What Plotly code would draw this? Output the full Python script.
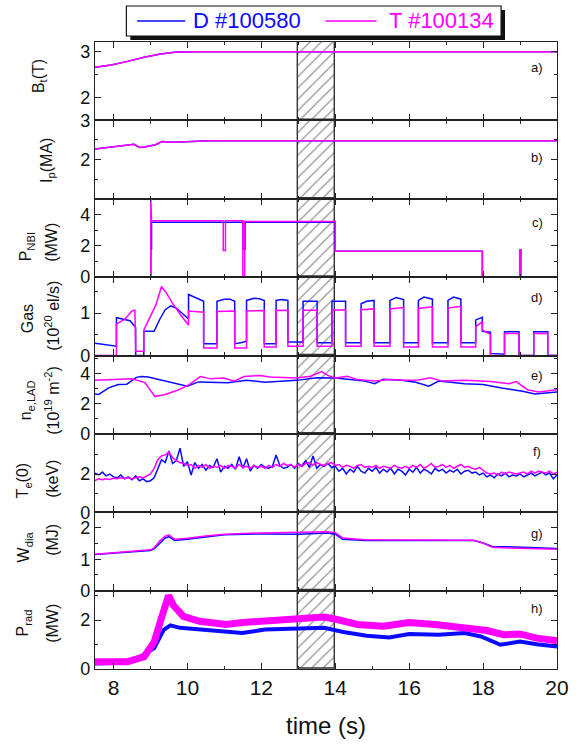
import plotly.graph_objects as go

# ---------------- data ----------------
BLUE = "#0a0aff"
MAG = "#ff00ff"

# a) toroidal field (both shots identical)
t_bt = [7.5, 7.94, 8.38, 8.83, 9.27, 9.71, 10.3, 20.0]
bt_d = [2.65, 2.70, 2.78, 2.87, 2.94, 2.985, 2.99, 2.99]
bt_t = [2.65, 2.70, 2.78, 2.87, 2.94, 2.985, 2.99, 2.99]

# b) plasma current
t_ip = [7.5, 8.47, 8.56, 8.7, 8.83, 9.14, 9.31, 9.62, 10.15, 10.6, 20.0]
ip_d = [2.27, 2.37, 2.39, 2.31, 2.32, 2.38, 2.46, 2.44, 2.47, 2.48, 2.48]
ip_t = [2.27, 2.37, 2.39, 2.31, 2.32, 2.38, 2.46, 2.44, 2.47, 2.48, 2.48]

# c) NBI power
t_nbi_d = [7.5, 9.01, 9.01, 9.03, 9.03, 11.5, 11.5, 11.56, 11.56, 14.0, 14.0, 17.98, 17.98, 20.0]
nbi_d = [0, 0, 1.8, 1.8, 3.5, 3.5, 1.8, 1.8, 3.5, 3.5, 1.65, 1.65, 0, 0]
t_nbi_t = [7.5, 9.01, 9.01, 9.03, 10.97, 10.97, 11.03, 11.03, 11.5, 11.5, 11.55, 11.55,
           14.0, 14.0, 17.98, 17.98, 18.99, 18.99, 19.03, 19.03, 20.0]
nbi_t = [0, 0, 5.0, 3.6, 3.6, 1.7, 1.7, 3.6, 3.6, 0, 0, 3.55,
         3.55, 1.65, 1.65, 0, 0, 1.75, 1.75, 0, 0]

# d) gas fuelling
t_gas_d = [7.5, 8.08, 8.08, 8.45, 8.6, 8.6, 8.82, 8.82, 9.1, 9.25, 9.4, 9.55, 9.7, 9.85, 10.03,
           10.03, 10.2, 10.44, 10.44, 10.8, 10.8, 11.0, 11.15, 11.28, 11.28, 11.45, 11.6,
           11.6, 11.8, 11.95, 12.08, 12.08, 12.4, 12.4, 12.55, 12.72, 12.72, 13.13,
           13.13, 13.51, 13.51, 13.91, 13.91, 14.28, 14.28, 14.7, 14.7, 14.85, 15.05,
           15.05, 15.48, 15.48, 15.65, 15.85, 15.85, 16.25, 16.25, 16.4, 16.63, 16.63,
           17.05, 17.05, 17.2, 17.4, 17.4, 17.8, 17.8, 17.98, 17.98, 18.2, 18.2, 18.58,
           18.58, 18.97, 18.97, 19.37, 19.37, 19.75, 19.75, 20.0]
gas_d = [0.29, 0.22, 0.89, 0.82, 0.66, 0.0, 0.0, 0.57, 0.57, 0.85, 1.08, 1.17, 1.12, 1.0, 0.86,
         1.44, 1.38, 1.28, 0.28, 0.28, 1.28, 1.33, 1.33, 1.28, 0.28, 0.3, 0.34,
         1.3, 1.35, 1.34, 1.3, 0.28, 0.28, 1.3, 1.32, 1.3, 0.32, 0.32,
         1.28, 1.28, 0.3, 0.3, 1.28, 1.28, 0.3, 0.3, 1.22, 1.28, 1.3,
         0.3, 0.3, 1.3, 1.37, 1.32, 0.3, 0.3, 1.3, 1.38, 1.33, 0.3,
         0.3, 1.3, 1.38, 1.33, 0.3, 0.3, 0.84, 0.9, 0.57, 0.55, 0.05, 0.03,
         0.56, 0.56, 0.0, 0.0, 0.56, 0.56, 0.0, 0.0]
t_gas_t = [7.5, 8.08, 8.08, 8.3, 8.5, 8.58, 8.6, 8.82, 8.82, 9.0, 9.15, 9.3, 9.45, 9.6, 9.82, 10.03,
           10.03, 10.44, 10.44, 10.8, 10.8, 11.28, 11.28, 11.6, 11.6, 12.08, 12.08, 12.4,
           12.4, 12.72, 12.72, 13.13, 13.13, 13.51, 13.51, 13.91, 13.91, 14.28, 14.28,
           14.7, 14.7, 15.05, 15.05, 15.48, 15.48, 15.85, 15.85, 16.25, 16.25, 16.63,
           16.63, 17.05, 17.05, 17.4, 17.4, 17.8, 17.8, 17.98, 17.98, 18.2, 18.2,
           18.58, 18.58, 18.97, 18.97, 19.37, 19.37, 19.75, 19.75, 20.0]
gas_t = [0.0, 0.0, 0.74, 0.85, 1.05, 1.07, 0.1, 0.1, 0.6, 0.95, 1.2, 1.63, 1.45, 1.23, 0.95, 0.72,
         1.05, 1.02, 0.18, 0.18, 1.04, 1.05, 0.18, 0.18, 1.05, 1.06, 0.2, 0.2,
         1.06, 1.07, 0.22, 0.22, 1.07, 1.07, 0.22, 0.22, 1.07, 1.08, 0.22,
         0.22, 1.08, 1.1, 0.22, 0.22, 1.1, 1.13, 0.2, 0.2, 1.11, 1.15,
         0.2, 0.2, 1.12, 1.16, 0.2, 0.2, 0.68, 0.8, 0.6, 0.5, 0.0,
         0.0, 0.52, 0.52, 0.0, 0.0, 0.52, 0.52, 0.0, 0.0]

# e) line-averaged density
t_ne_d = [7.5, 7.6, 7.87, 8.13, 8.36, 8.62, 8.76, 8.94, 10.0, 10.3, 11.1, 11.6, 12.1, 12.95,
          13.5, 14.0, 14.4, 14.8, 15.07, 15.3, 15.8, 16.18, 16.53, 16.8, 17.5, 18.0, 18.5,
          19.07, 19.4, 19.8, 20.0]
ne_d = [2.65, 2.62, 3.05, 3.27, 3.3, 3.75, 3.8, 3.78, 3.16, 3.45, 3.4, 3.55, 3.43, 3.55,
        3.73, 3.7, 3.6, 3.5, 3.33, 3.63, 3.55, 3.42, 3.17, 3.5, 3.33, 3.28, 3.05,
        2.83, 2.65, 2.75, 2.78]
t_ne_t = [7.5, 8.5, 8.85, 9.12, 9.38, 9.77, 10.05, 10.35, 10.63, 10.98, 11.27, 11.53, 11.97,
          12.23, 12.95, 13.33, 13.63, 13.8, 14.0, 14.33, 14.6, 15.07, 15.5, 15.9, 16.25,
          16.57, 16.9, 17.5, 18.2, 18.7, 18.9, 19.2, 19.5, 19.85, 20.0]
ne_t = [3.55, 3.65, 3.4, 2.49, 2.6, 2.93, 3.27, 3.8, 3.65, 3.7, 3.5, 3.8, 3.88,
        3.78, 3.7, 3.82, 4.13, 3.88, 3.7, 3.82, 3.6, 3.5, 3.6, 3.55, 3.57,
        3.72, 3.5, 3.55, 3.47, 3.33, 3.47, 2.93, 2.78, 2.9, 2.92]

# f) central electron temperature (0.1 s samples, 7.5 ... 20.0 s)
te_time = [7.5 + 0.1 * i for i in range(126)]
te_d = [2.05, 1.95, 2.1, 1.9, 2.0, 1.85,
        1.8, 1.95, 1.75, 1.85, 1.7, 1.9, 1.65, 1.75, 1.6,
        1.65, 1.8, 2.3, 2.75, 2.6, 3.2, 2.55, 2.7, 3.35, 2.4,
        2.65, 1.95, 2.6, 2.3, 2.5, 2.2, 2.45, 2.35, 2.8, 2.1,
        2.4, 2.3, 2.5, 2.25, 2.9, 2.3, 2.8, 2.15, 2.45, 2.3,
        2.5, 2.35, 2.3, 2.4, 3.0, 2.45, 2.3, 2.35, 2.5, 2.3,
        2.55, 2.4, 2.7, 2.35, 2.95, 2.3, 2.5, 2.4, 2.55, 2.35,
        2.4, 2.15, 2.3, 2.0, 2.25, 2.1, 2.4, 2.15, 2.05, 2.3,
        2.15, 2.35, 2.05, 2.25, 2.1, 2.3, 2.0, 2.25, 2.15, 1.95,
        2.25, 2.1, 2.35, 2.05, 2.25, 2.15, 2.0, 2.3, 2.15, 2.25,
        2.05, 2.2, 2.1, 2.25, 2.0, 2.15, 2.2, 2.05, 2.1, 1.95,
        2.05, 1.85, 1.95, 1.8, 2.0, 1.9, 2.05, 1.85, 1.95, 1.9,
        2.0, 1.85, 1.95, 2.05, 1.9, 2.0, 2.1, 1.95, 2.05, 1.75, 1.95]
te_t = [1.65, 1.75, 1.7, 1.75, 1.72, 1.78,
        1.75, 1.8, 1.77, 1.8, 1.75, 1.82, 1.85, 1.8, 1.9,
        2.0, 2.3, 2.75, 2.95, 3.0, 3.15, 2.85, 2.7, 2.6, 2.55,
        2.45, 2.5, 2.3, 2.45, 2.35, 2.5, 2.3, 2.4, 2.35, 2.45,
        2.3, 2.45, 2.4, 2.3, 2.5, 2.35, 2.4, 2.3, 2.45, 2.35,
        2.4, 2.3, 2.45, 2.35, 2.5, 2.4, 2.55, 2.45, 2.5, 2.35,
        2.5, 2.4, 2.55, 2.6, 2.45, 2.6, 2.5, 2.45, 2.55, 2.6,
        2.45, 2.5, 2.35, 2.45, 2.4, 2.3, 2.45, 2.5, 2.35, 2.4,
        2.35, 2.45, 2.3, 2.4, 2.35, 2.3, 2.45, 2.35, 2.3, 2.4,
        2.3, 2.45, 2.35, 2.5, 2.3, 2.4, 2.55, 2.35, 2.4, 2.5,
        2.35, 2.45, 2.3, 2.4, 2.5, 2.35, 2.4, 2.3, 2.25, 2.35,
        2.2, 2.05, 2.0, 2.05, 1.95, 2.1, 2.0, 2.1, 2.05, 2.0,
        2.05, 2.1, 2.0, 2.15, 2.05, 2.15, 2.1, 2.05, 2.15, 2.0, 2.1]

# g) diamagnetic energy
t_w = [7.5, 8.4, 9.0, 9.1, 9.25, 9.4, 9.5, 9.65, 10.0, 10.5, 11.0, 12.0, 13.0, 13.8, 14.0,
       14.2, 14.8, 16.1, 17.5, 17.75, 18.0, 18.25, 18.7, 19.5, 20.0]
w_d = [1.15, 1.22, 1.28, 1.33, 1.52, 1.68, 1.72, 1.6, 1.64, 1.72, 1.78, 1.81, 1.8, 1.84, 1.8,
       1.64, 1.6, 1.6, 1.61, 1.6, 1.52, 1.41, 1.4, 1.36, 1.34]
w_t = [1.16, 1.23, 1.3, 1.36, 1.58, 1.74, 1.78, 1.64, 1.67, 1.74, 1.8, 1.84, 1.85, 1.88, 1.85,
       1.68, 1.62, 1.61, 1.62, 1.61, 1.52, 1.38, 1.36, 1.33, 1.32]

# h) radiated power
t_prad_d = [7.5, 8.38, 8.65, 9.1, 9.36, 9.54, 9.8, 10.6, 11.04, 11.48, 12.1, 12.8, 13.7, 14.22,
            14.85, 15.46, 16.0, 16.8, 17.5, 17.94, 18.47, 19.0, 19.45, 20.0]
prad_d = [0.22, 0.26, 0.43, 0.85, 1.6, 1.78, 1.68, 1.57, 1.5, 1.47, 1.61, 1.64, 1.68, 1.51,
          1.36, 1.29, 1.43, 1.4, 1.47, 1.33, 0.99, 1.12, 1.01, 0.92]
t_prad_t = [7.5, 8.38, 8.83, 9.1, 9.27, 9.4, 9.49, 9.62, 9.89, 10.33, 11.04, 11.5, 11.92, 12.45,
            13.0, 13.7, 14.05, 14.6, 15.3, 16.0, 16.7, 17.23, 17.68, 18.1, 18.56, 19.0, 19.45, 20.0]
prad_t = [0.3, 0.3, 0.5, 1.1, 1.95, 2.65, 3.0, 2.6, 2.15, 1.95, 1.82, 1.9, 1.95, 2.02,
          2.1, 2.12, 2.02, 1.82, 1.75, 1.9, 1.82, 1.75, 1.68, 1.57, 1.4, 1.43, 1.26, 1.15]

# highlighted time window
window = [13.0, 14.0]

panel_letters = ["a)", "b)", "c)", "d)", "e)", "f)", "g)", "h)"]
legend_names = ["D #100580", "T #100134"]

# ---------------- figure ----------------
FONT = "Liberation Sans, Arial, sans-serif"
W, H = 581, 744
L, R, T, B = 95, 15, 42, 75
PW, PH = W - L - R, H - T - B


def px2x(px):
    return (px - L) / PW


def px2y(py):
    return (H - B - py) / PH


series = [
    (t_bt, bt_d, t_bt, bt_t),
    (t_ip, ip_d, t_ip, ip_t),
    (t_nbi_d, nbi_d, t_nbi_t, nbi_t),
    (t_gas_d, gas_d, t_gas_t, gas_t),
    (t_ne_d, ne_d, t_ne_t, ne_t),
    (te_time, te_d, te_time, te_t),
    (t_w, w_d, t_w, w_t),
    (t_prad_d, prad_d, t_prad_t, prad_t),
]
yranges = [[1.5, 3.2], [1.0, 3.0], [0, 5], [0, 1.85], [0, 5.2], [0, 4.1], [0, 2.5], [0, 3.2]]
ytickv = [[2, 3], [2, 3], [0, 2, 4], [0, 1], [0, 2, 4], [0, 2], [0, 1, 2], [0, 2]]
yminor = [[2.5], [1.5, 2.5], [1, 3], [0.5, 1.5], [1, 3, 5], [1, 3], [0.5, 1.5], [1, 3]]
widths_d = [1.5, 1.5, 1.5, 1.5, 1.5, 1.5, 1.5, 4.0]
widths_t = [1.5, 1.5, 1.5, 1.5, 1.5, 1.5, 1.5, 7.0]

fig = go.Figure()
n = 8
for i in range(n):
    xa = "x" if i == 0 else f"x{i+1}"
    ya = "y" if i == 0 else f"y{i+1}"
    lo, hi = yranges[i]
    # hatched window
    fig.add_trace(go.Bar(
        x=[(window[0] + window[1]) / 2], y=[hi - lo], base=[lo], width=[window[1] - window[0]],
        xaxis=xa, yaxis=ya, showlegend=False, hoverinfo="skip",
        marker=dict(color="rgba(0,0,0,0)", line=dict(color="#333333", width=1.4),
                    pattern=dict(shape="/", fgcolor="#2a2a2a", bgcolor="rgba(0,0,0,0)",
                                 size=8, solidity=0.16))))
    td, yd, tt, yt = series[i]
    fig.add_trace(go.Scatter(x=td, y=yd, mode="lines", xaxis=xa, yaxis=ya,
                             line=dict(color=BLUE, width=widths_d[i]),
                             showlegend=False, hoverinfo="skip"))
    fig.add_trace(go.Scatter(x=tt, y=yt, mode="lines", xaxis=xa, yaxis=ya,
                             line=dict(color=MAG, width=widths_t[i]),
                             showlegend=False, hoverinfo="skip"))

axis_common = dict(showline=True, linecolor="#222222", linewidth=1.3, mirror="allticks",
                   ticks="inside", ticklen=6, tickwidth=1.2, tickcolor="#222222",
                   showgrid=False, zeroline=False)
layout = dict(width=W, height=H, margin=dict(l=L, r=R, t=T, b=B),
              paper_bgcolor="white", plot_bgcolor="white", showlegend=False,
              font=dict(family=FONT, color="#111111"), bargap=0)
for i in range(n):
    xk = "xaxis" if i == 0 else f"xaxis{i+1}"
    yk = "yaxis" if i == 0 else f"yaxis{i+1}"
    ya = "y" if i == 0 else f"y{i+1}"
    d0 = 1 - (i + 1) / n
    d1 = 1 - i / n
    layout[xk] = dict(axis_common, range=[7.5, 20], tickvals=[8, 10, 12, 14, 16, 18, 20],
                      minor=dict(tickvals=[9, 11, 13, 15, 17, 19], ticks="inside", ticklen=3,
                                 tickcolor="#222222", tickwidth=1.2),
                      showticklabels=(i == n - 1), anchor=ya,
                      tickfont=dict(size=21, family=FONT, color="#111111"))
    if i > 0:
        layout[xk]["matches"] = "x"
    layout[yk] = dict(axis_common, range=yranges[i], domain=[d0, d1], tickvals=ytickv[i],
                      minor=dict(tickvals=yminor[i], ticks="inside", ticklen=3,
                                 tickcolor="#222222", tickwidth=1.2),
                      tickfont=dict(size=18, family=FONT, color="#111111"))
fig.update_layout(**layout)

ann = []
lab_font = dict(family=FONT, size=16, color="#111111")
ylabels = [
    ("B<sub>t</sub>(T)", 38, 76),
    ("I<sub>p</sub>(MA)", 46, 160),
    ("P<sub>NBI</sub>", 26, 247), ("(MW)", 51, 242),
    ("Gas", 26, 319), ("(10<sup>20</sup> el/s)", 51, 316),
    ("n<sub>e,LAD</sub>", 25, 400), ("(10<sup>19</sup> m<sup>-2</sup>)", 51, 400),
    ("T<sub>e</sub>(0)", 22, 480), ("(keV)", 51, 479),
    ("W<sub>dia</sub>", 23, 547), ("(MJ)", 51, 540),
    ("P<sub>rad</sub>", 22, 623), ("(MW)", 51, 623),
]
for txt, px, py in ylabels:
    ann.append(dict(text=txt, x=px2x(px), y=px2y(py), xref="paper", yref="paper",
                    textangle=-90, showarrow=False, xanchor="center", yanchor="middle",
                    font=lab_font))
letter_y = [68, 157, 222, 297, 375, 452, 533, 608]
for lt, py in zip(panel_letters, letter_y):
    ann.append(dict(text=lt, x=px2x(546), y=px2y(py), xref="paper", yref="paper",
                    showarrow=False, xanchor="center", yanchor="middle",
                    font=dict(family=FONT, size=13, color="#111111")))
ann.append(dict(text="time (s)", x=px2x(330.5), y=px2y(725), xref="paper", yref="paper",
                showarrow=False, xanchor="center", yanchor="middle",
                font=dict(family=FONT, size=24, color="#111111")))
# legend (drawn manually to reproduce the boxed, shadowed key)
ann.append(dict(text=legend_names[0], x=px2x(193), y=px2y(21), xref="paper", yref="paper",
                showarrow=False, xanchor="left", yanchor="middle",
                font=dict(family=FONT, size=22, color=BLUE)))
ann.append(dict(text=legend_names[1], x=px2x(393), y=px2y(21), xref="paper", yref="paper",
                showarrow=False, xanchor="left", yanchor="middle",
                font=dict(family=FONT, size=22, color=MAG)))

shapes = [
    dict(type="rect", xref="paper", yref="paper", x0=px2x(131), x1=px2x(513),
         y0=px2y(10), y1=px2y(40), fillcolor="#111111", line=dict(width=0), layer="above"),
    dict(type="rect", xref="paper", yref="paper", x0=px2x(127), x1=px2x(509),
         y0=px2y(6), y1=px2y(36), fillcolor="white", line=dict(color="#111111", width=1.2),
         layer="above"),
    dict(type="line", xref="paper", yref="paper", x0=px2x(138), x1=px2x(187),
         y0=px2y(21), y1=px2y(21), line=dict(color=BLUE, width=1.5), layer="above"),
    dict(type="line", xref="paper", yref="paper", x0=px2x(330), x1=px2x(382),
         y0=px2y(21), y1=px2y(21), line=dict(color=MAG, width=1.5), layer="above"),
]
fig.update_layout(annotations=ann, shapes=shapes)

fig.write_html("out.html")
